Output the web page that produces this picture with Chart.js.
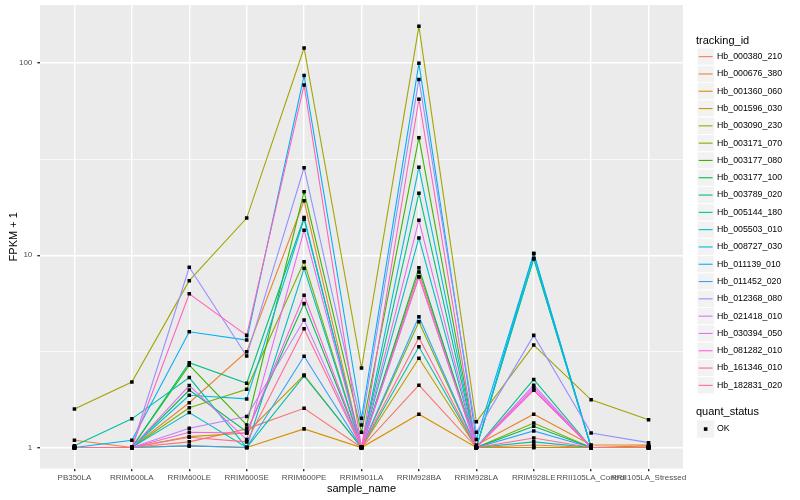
<!DOCTYPE html>
<html>
<head>
<meta charset="utf-8">
<script src="https://cdn.jsdelivr.net/npm/chart.js"></script>
<style>
  body { margin: 0; background: #ffffff; }
</style>
</head>
<body>
<canvas id="myChart" width="800" height="500"></canvas>
<script>
// sample names on the x axis
const categories = ['PB350LA', 'RRIM600LA', 'RRIM600LE', 'RRIM600SE', 'RRIM600PE', 'RRIM901LA',
  'RRIM928BA', 'RRIM928LA', 'RRIM928LE', 'RRII105LA_Control', 'RRII105LA_Stressed'];

// FPKM + 1 per tracking id
const hb_000380_210 = [1.00, 1.00, 1.07, 1.25, 1.60, 1.00, 2.11, 1.00, 1.03, 1.00, 1.00];
const hb_000676_380 = [1.09, 1.00, 1.71, 3.15, 19.2, 1.00, 8.18, 1.03, 1.49, 1.03, 1.03];
const hb_001360_060 = [1.00, 1.00, 1.02, 1.00, 1.25, 1.00, 1.49, 1.00, 1.00, 1.00, 1.02];
const hb_001596_030 = [1.00, 1.00, 1.14, 1.19, 2.38, 1.00, 2.91, 1.00, 1.00, 1.00, 1.00];
const hb_003090_230 = [1.585, 2.19, 7.37, 15.6, 119.5, 2.59, 155, 1.36, 3.41, 1.77, 1.395];
const hb_003171_070 = [1.00, 1.00, 1.61, 2.01, 9.25, 1.00, 4.51, 1.00, 1.34, 1.00, 1.00];
const hb_003177_080 = [1.00, 1.00, 2.68, 1.31, 21.4, 1.20, 40.8, 1.00, 9.6, 1.00, 1.00];
const hb_003177_100 = [1.00, 1.00, 1.99, 1.21, 5.6, 1.00, 8.6, 1.00, 1.29, 1.00, 1.00];
const hb_003789_020 = [1.00, 1.00, 2.76, 2.16, 15.7, 1.00, 21.0, 1.00, 2.26, 1.00, 1.00];
const hb_005144_180 = [1.02, 1.41, 2.31, 1.00, 2.36, 1.00, 3.34, 1.00, 1.07, 1.00, 1.00];
const hb_005503_010 = [1.00, 1.00, 1.52, 1.00, 8.55, 1.00, 12.3, 1.00, 9.6, 1.00, 1.00];
const hb_008727_030 = [1.00, 1.00, 1.87, 1.79, 15.4, 1.00, 28.7, 1.00, 10.2, 1.00, 1.00];
const hb_011139_010 = [1.00, 1.09, 4.0, 3.62, 86, 1.42, 99.5, 1.10, 10.2, 1.00, 1.00];
const hb_011452_020 = [1.00, 1.00, 1.02, 1.00, 2.98, 1.00, 4.79, 1.00, 1.22, 1.00, 1.00];
const hb_012368_080 = [1.00, 1.00, 8.65, 2.99, 28.5, 1.31, 82, 1.20, 3.83, 1.19, 1.06];
const hb_021418_010 = [1.00, 1.00, 1.26, 1.45, 4.6, 1.00, 7.73, 1.00, 2.05, 1.00, 1.00];
const hb_030394_050 = [1.00, 1.00, 2.10, 1.10, 13.5, 1.00, 15.2, 1.00, 2.11, 1.00, 1.00];
const hb_081282_010 = [1.00, 1.00, 1.20, 1.19, 6.19, 1.00, 7.73, 1.00, 1.99, 1.00, 1.00];
const hb_161346_010 = [1.00, 1.00, 6.3, 3.83, 76.7, 1.00, 64.7, 1.00, 1.99, 1.00, 1.00];
const hb_182831_020 = [1.00, 1.00, 1.13, 1.07, 4.15, 1.00, 3.72, 1.00, 1.12, 1.00, 1.00];

const trackingIds = ['Hb_000380_210', 'Hb_000676_380', 'Hb_001360_060', 'Hb_001596_030', 'Hb_003090_230',
  'Hb_003171_070', 'Hb_003177_080', 'Hb_003177_100', 'Hb_003789_020', 'Hb_005144_180',
  'Hb_005503_010', 'Hb_008727_030', 'Hb_011139_010', 'Hb_011452_020', 'Hb_012368_080',
  'Hb_021418_010', 'Hb_030394_050', 'Hb_081282_010', 'Hb_161346_010', 'Hb_182831_020'];
const series = [hb_000380_210, hb_000676_380, hb_001360_060, hb_001596_030, hb_003090_230,
  hb_003171_070, hb_003177_080, hb_003177_100, hb_003789_020, hb_005144_180,
  hb_005503_010, hb_008727_030, hb_011139_010, hb_011452_020, hb_012368_080,
  hb_021418_010, hb_030394_050, hb_081282_010, hb_161346_010, hb_182831_020];

// y axis
const yTicks = [1, 10, 100];
const yMinor = [Math.sqrt(10), Math.sqrt(1000)];

// ggplot hue palette, 20 levels
const palette = ['#F8766D', '#EA8331', '#D89000', '#C09B00', '#A3A500', '#7CAE00', '#39B600', '#00BB4E',
  '#00BF7D', '#00C1A3', '#00BFC4', '#00BAE0', '#00B0F6', '#35A2FF', '#9590FF', '#C77CFF',
  '#E76BF3', '#FA62DB', '#FF62BC', '#FF6C91'];

const FONT = '"Liberation Sans", Arial, sans-serif';
const tickFont = { family: FONT, size: 8 };

let datasets = [];
for (let i = 0; i < series.length; i++) {
  datasets.push({
    label: trackingIds[i],
    data: series[i].map((v, j) => ({ x: j, y: v })),
    borderColor: palette[i],
    borderWidth: 1.1,
    pointRadius: 0,
    tension: 0,
    fill: false,
    order: 100 - i
  });
}
// black squares for quant_status OK, drawn on top of every line
let pts = [];
for (let i = 0; i < series.length; i++) {
  for (let j = 0; j < series[i].length; j++) pts.push({ x: j, y: series[i][j] });
}
datasets.push({
  label: 'OK',
  data: pts,
  showLine: false,
  pointStyle: 'rect',
  pointRadius: 2.5,
  pointBackgroundColor: '#000000',
  pointBorderWidth: 0,
  borderWidth: 0,
  order: 0
});

const ggBits = {
  id: 'ggBits',
  beforeDraw(chart) {
    const c = chart.ctx, a = chart.chartArea;
    c.save();
    c.fillStyle = '#EBEBEB';
    c.fillRect(a.left, a.top, a.right - a.left, a.bottom - a.top);
    c.restore();
  },
  afterDraw(chart) {
    const c = chart.ctx, a = chart.chartArea;
    c.save();
    c.fillStyle = '#000000';
    c.textBaseline = 'middle';
    // axis titles
    c.font = '11px ' + FONT;
    c.textAlign = 'center';
    c.fillText('sample_name', (a.left + a.right) / 2, 489);
    c.save();
    c.translate(13.5, (a.top + a.bottom) / 2);
    c.rotate(-Math.PI / 2);
    c.fillText('FPKM + 1', 0, 0);
    c.restore();

    // legend
    const lx = 697, kw = 17.3;
    c.textAlign = 'left';
    c.fillText('tracking_id', 696, 40.5);
    for (let i = 0; i < trackingIds.length; i++) {
      const top = 48 + i * kw;
      c.fillStyle = '#F2F2F2';
      c.fillRect(lx, top, kw, kw);
      c.strokeStyle = '#FFFFFF';
      c.lineWidth = 1;
      c.strokeRect(lx, top, kw, kw);
      c.strokeStyle = palette[i];
      c.lineWidth = 1.1;
      c.beginPath();
      c.moveTo(lx + 1.7, top + kw / 2);
      c.lineTo(lx + kw - 1.7, top + kw / 2);
      c.stroke();
      c.fillStyle = '#000000';
      c.font = '8.8px ' + FONT;
      c.fillText(trackingIds[i], 717, top + kw / 2);
    }
    c.font = '11px ' + FONT;
    c.fillText('quant_status', 696, 412);
    const top2 = 420.4;
    c.fillStyle = '#F2F2F2';
    c.fillRect(lx, top2, kw, kw);
    c.fillStyle = '#000000';
    c.fillRect(lx + kw / 2 - 1.8, top2 + kw / 2 - 1.8, 3.6, 3.6);
    c.font = '8.8px ' + FONT;
    c.fillText('OK', 717, top2 + kw / 2);
    c.restore();
  }
};

const config = {
  type: 'line',
  data: { datasets: datasets },
  options: {
    responsive: false,
    animation: false,
    events: [],
    layout: { padding: { left: 0, top: 5, right: 117, bottom: 0 } },
    plugins: { legend: { display: false }, tooltip: { enabled: false } },
    scales: {
      x: {
        type: 'linear',
        min: -0.6,
        max: categories.length - 0.4,
        afterBuildTicks: s => { s.ticks = categories.map((c, i) => ({ value: i })); },
        afterFit: s => { s.height = 31.4; s.paddingLeft = 0; s.paddingRight = 0; },
        ticks: {
          callback: v => categories[v],
          autoSkip: false, maxRotation: 0, minRotation: 0,
          padding: 1.5, font: tickFont, color: '#4D4D4D'
        },
        grid: { color: '#FFFFFF', lineWidth: 1.4, tickColor: '#333333', tickLength: 2.7 },
        border: { display: false }
      },
      y: {
        type: 'logarithmic',
        min: 0.777,
        max: 200,
        afterBuildTicks: s => { s.ticks = yTicks.concat(yMinor).sort((p, q) => p - q).map(v => ({ value: v })); },
        afterFit: s => { s.width = 40; s.paddingTop = 0; s.paddingBottom = 0; },
        ticks: {
          callback: v => yTicks.includes(v) ? String(v) : '',
          autoSkip: false, padding: 5, font: tickFont, color: '#4D4D4D'
        },
        grid: {
          color: '#FFFFFF',
          lineWidth: c => yTicks.includes(c.tick.value) ? 1.4 : 0.7,
          tickColor: c => yTicks.includes(c.tick.value) ? '#333333' : 'rgba(0,0,0,0)',
          tickLength: 2.7
        },
        border: { display: false }
      }
    }
  },
  plugins: [ggBits]
};

const myChart = new Chart(document.getElementById('myChart'), config);
</script>
</body>
</html>
